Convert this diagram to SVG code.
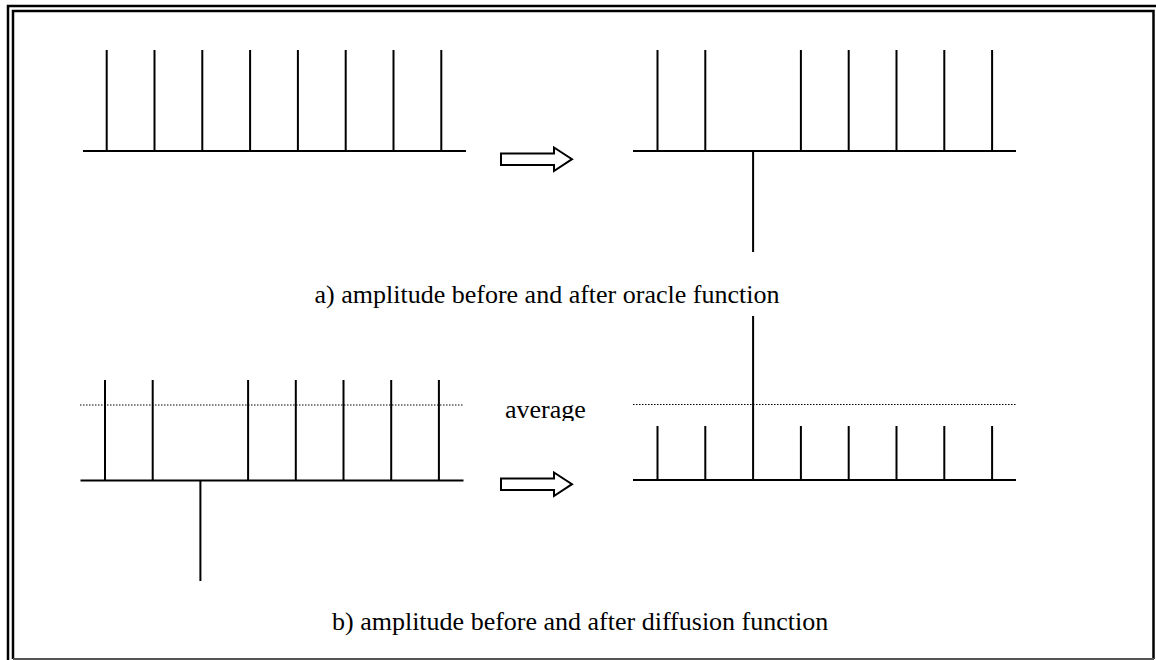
<svg xmlns="http://www.w3.org/2000/svg" width="1156" height="660" viewBox="0 0 1156 660">
<style>
.ln{stroke:#000;stroke-width:2;fill:none}
.dot{stroke:#000;stroke-width:1.2;stroke-dasharray:1.5 1.5;fill:none}
.arr{stroke:#000;stroke-width:2;fill:#fff;stroke-linejoin:miter}
.t{font-family:'Liberation Serif','Times New Roman',Times,'DejaVu Serif',serif;font-size:26px;fill:#000}
</style>
<defs>
<clipPath id="avgclip"><rect x="490" y="380" width="120" height="41"/></clipPath>
</defs>
<rect width="1156" height="660" fill="#fff"/>
<g id="frame">
<path d="M8 660V6H1156" stroke="#000" stroke-width="2.5" fill="none"/>
<path d="M13 659V11H1153.5V659" stroke="#000" stroke-width="2.5" fill="none"/>
<path d="M13 659H1154" stroke="#555" stroke-width="2" fill="none"/>
</g>
<g id="panel-a-before">
<path class="ln" d="M83 151H466M106.7 50V151M154.5 50V151M202.3 50V151M250.1 50V151M297.9 50V151M345.7 50V151M393.5 50V151M441.3 50V151"/>
</g>
<g id="panel-a-after">
<path class="ln" d="M633 151H1016M657.5 50V151M705.3 50V151M753.1 151V252M800.9 50V151M848.7 50V151M896.5 50V151M944.3 50V151M992.1 50V151"/>
</g>
<text id="caption-a" class="t" x="547" y="303" text-anchor="middle">a) amplitude before and after oracle function</text>
<g id="panel-b-before">
<path class="ln" d="M80.5 480.5H463.5M105 380V480.5M152.7 380V480.5M200.4 480.5V581M248.1 380V480.5M295.8 380V480.5M343.5 380V480.5M391.2 380V480.5M438.9 380V480.5"/>
<path class="dot" d="M80 405H464"/>
</g>
<text id="label-average" class="t" x="505" y="418" clip-path="url(#avgclip)">average</text>
<g id="panel-b-after">
<path class="ln" d="M633 480H1016M657.5 426V480M705.3 426V480M753.1 316V480M800.9 426V480M848.7 426V480M896.5 426V480M944.3 426V480M992.1 426V480"/>
<path class="dot" d="M633 404.5H1016"/>
</g>
<text id="caption-b" class="t" x="332" y="630">b) amplitude before and after diffusion function</text>
<g id="connectors">
<path class="arr" d="M501 153.5H554V147.5L572 159.2L554 171V165H501Z"/>
<path class="arr" d="M501 478.5H554V472.5L572 484.2L554 496V490H501Z"/>
</g>
</svg>
